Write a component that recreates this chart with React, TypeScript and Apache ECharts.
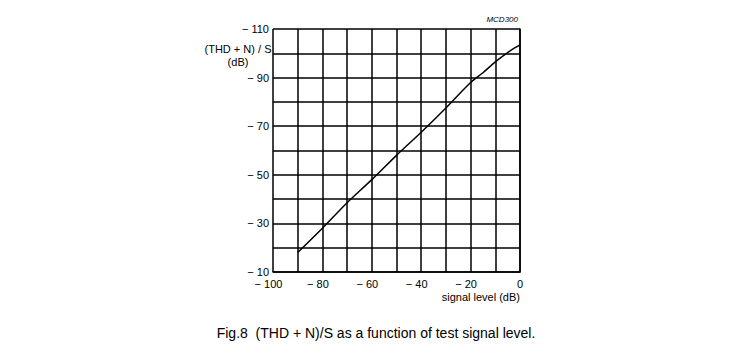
import React, { useEffect, useRef } from "react";
import * as echarts from "echarts";

const signalLevel = [-90, -80, -70, -60, -50, -40, -30, -20, -15, -10, -5, -2, 0];
const thdnRatio = [18, 28, 38.5, 48, 58, 67.5, 77.5, 88, 92, 96.5, 100.3, 102.3, 103.5];

const xTickValues = [-100, -80, -60, -40, -20, 0];
const yTickValues = [10, 30, 50, 70, 90, 110];

const yTitleLines = ["(THD + N) / S", "(dB)"];
const xTitle = "signal level (dB)";
const figRef = "MCD300";
const caption = "Fig.8  (THD + N)/S as a function of test signal level.";

const FONT = "'Liberation Sans', Arial, Helvetica, sans-serif";

export default function App() {
  const ref = useRef<HTMLDivElement>(null);
  useEffect(() => {
    if (!ref.current) return;
    const chart = echarts.init(ref.current, null, { renderer: "svg" });
    const data = signalLevel.map((x, i) => [x, thdnRatio[i]]);
    chart.setOption({
      animation: false,
      backgroundColor: "#ffffff",
      grid: { left: 273, right: 233, top: 29, bottom: 86, containLabel: false },
      xAxis: {
        type: "value",
        min: -100,
        max: 0,
        interval: 10,
        axisLine: { show: true, lineStyle: { color: "#000", width: 1.5 } },
        axisTick: { show: false },
        splitLine: { show: true, lineStyle: { color: "#000", width: 1.5 } },
        axisLabel: {
          margin: 6,
          fontSize: 11,
          fontFamily: FONT,
          color: "#000",
          formatter: (v: number) => {
            if (!xTickValues.includes(v)) return "";
            return v < 0 ? `{m|\u2212 ${-v}}` : `{z|${v}}`;
          },
          rich: {
            m: { fontSize: 11, fontFamily: FONT, color: "#000", padding: [0, 9, 0, 0] },
            z: { fontSize: 11, fontFamily: FONT, color: "#000" },
          },
        },
      },
      yAxis: {
        type: "value",
        min: 10,
        max: 110,
        interval: 10,
        axisLine: { show: true, lineStyle: { color: "#000", width: 1.5 } },
        axisTick: { show: false },
        splitLine: { show: true, lineStyle: { color: "#000", width: 1.5 } },
        axisLabel: {
          margin: 4,
          fontSize: 11,
          fontFamily: FONT,
          color: "#000",
          formatter: (v: number) => (yTickValues.includes(v) ? `\u2212 ${v}` : ""),
        },
      },
      series: [
        {
          type: "line",
          data,
          smooth: 0.3,
          showSymbol: false,
          symbol: "none",
          lineStyle: { color: "#000", width: 1.5 },
        },
      ],
      graphic: [
        {
          type: "text",
          x: 238,
          y: 49,
          style: { text: yTitleLines[0], fontSize: 11, fontFamily: FONT, fill: "#000", textAlign: "center", textVerticalAlign: "middle" },
        },
        {
          type: "text",
          x: 238,
          y: 62,
          style: { text: yTitleLines[1], fontSize: 11, fontFamily: FONT, fill: "#000", textAlign: "center", textVerticalAlign: "middle" },
        },
        {
          type: "text",
          x: 520,
          y: 297,
          style: { text: xTitle, fontSize: 11, fontFamily: FONT, fill: "#000", textAlign: "right", textVerticalAlign: "middle" },
        },
        {
          type: "text",
          x: 518,
          y: 19,
          style: { text: figRef, fontSize: 8, fontStyle: "italic", fontFamily: FONT, fill: "#000", textAlign: "right", textVerticalAlign: "middle" },
        },
        {
          type: "text",
          x: 376,
          y: 333,
          style: { text: caption, fontSize: 14, fontFamily: FONT, fill: "#000", textAlign: "center", textVerticalAlign: "middle" },
        },
      ],
    });
    return () => chart.dispose();
  }, []);
  return <div ref={ref} style={{ width: 753, height: 358, position: "absolute", left: 0, top: 0 }} />;
}
